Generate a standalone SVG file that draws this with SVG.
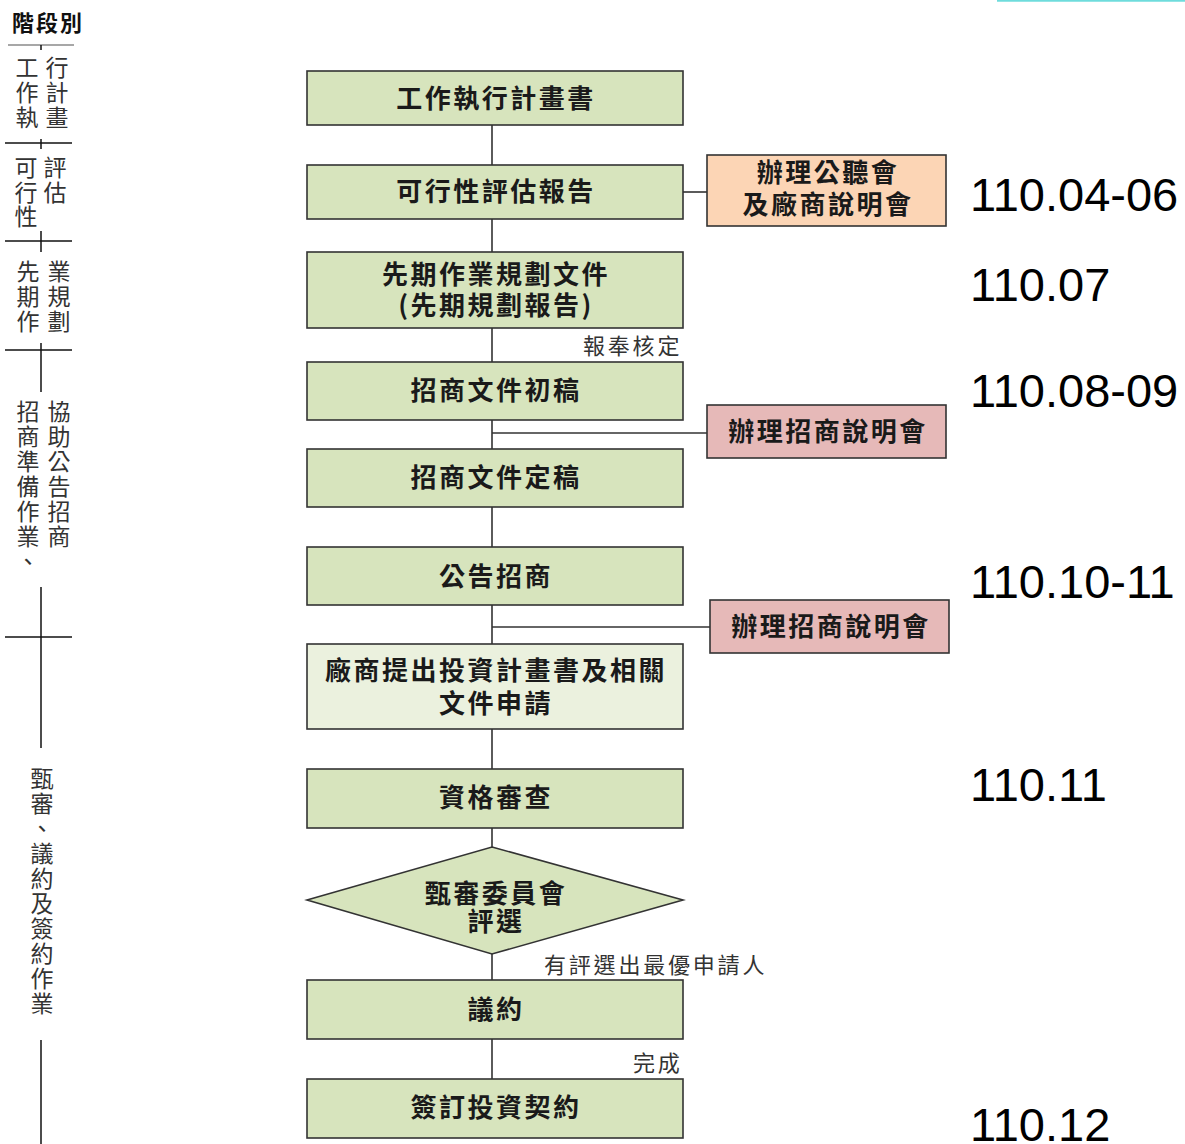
<svg xmlns="http://www.w3.org/2000/svg" width="1185" height="1144" viewBox="0 0 1185 1144">
<style>
.bg{fill:#ffffff}
.box{fill:#d7e4bd;stroke:#333333;stroke-width:1.6}
.box2{fill:#ebf1de;stroke:#333333;stroke-width:1.6}
.orange{fill:#fcd5b5;stroke:#333333;stroke-width:1.6}
.pink{fill:#e6b9b8;stroke:#333333;stroke-width:1.6}
.conn{stroke:#333333;stroke-width:1.6;fill:none}
.stage{stroke:#111111;stroke-width:1.5;fill:none}
.bt{font-family:"Noto Sans CJK TC","Noto Sans CJK SC",sans-serif;font-size:26px;font-weight:bold;fill:#1a1a1a;text-anchor:middle;letter-spacing:2.5px}
.lbl{font-family:"Noto Sans CJK TC","Noto Sans CJK SC",sans-serif;font-size:22px;fill:#333333;letter-spacing:2.8px}
.side{font-family:"Noto Sans CJK TC","Noto Sans CJK SC",sans-serif;font-size:23px;fill:#333333;text-anchor:middle}
.date{font-family:"Liberation Sans",Arial,sans-serif;font-size:47px;fill:#000000}
</style>
<rect class="bg" x="0" y="0" width="1185" height="1144"/>
<line x1="997" y1="0.8" x2="1185" y2="0.8" stroke="#6fdcdc" stroke-width="2"/>

<g id="stages">
  <text x="12" y="31" font-family="'Noto Sans CJK TC',sans-serif" font-size="22" font-weight="bold" fill="#111" letter-spacing="2">階段別</text>
  <line x1="8" y1="45" x2="74" y2="45" stroke="#8a8a8a" stroke-width="1.5"/>
  <line class="stage" x1="41" y1="45" x2="41" y2="50"/>
  <g id="stage1">
    <text class="side" x="27" y="76">工</text><text class="side" x="27" y="101">作</text><text class="side" x="27" y="126">執</text>
    <text class="side" x="57" y="76">行</text><text class="side" x="57" y="101">計</text><text class="side" x="57" y="126">畫</text>
  </g>
  <line class="stage" x1="5" y1="143" x2="72" y2="143"/>
  <line class="stage" x1="41" y1="139" x2="41" y2="149"/>
  <g id="stage2">
    <text class="side" x="26" y="176">可</text><text class="side" x="26" y="201">行</text><text class="side" x="26" y="225">性</text>
    <text class="side" x="55" y="176">評</text><text class="side" x="55" y="201">估</text>
  </g>
  <line class="stage" x1="5" y1="241" x2="72" y2="241"/>
  <line class="stage" x1="41" y1="231" x2="41" y2="252"/>
  <g id="stage3">
    <text class="side" x="28" y="280">先</text><text class="side" x="28" y="305">期</text><text class="side" x="28" y="330">作</text>
    <text class="side" x="59" y="280">業</text><text class="side" x="59" y="305">規</text><text class="side" x="59" y="330">劃</text>
  </g>
  <line class="stage" x1="5" y1="350" x2="72" y2="350"/>
  <line class="stage" x1="41" y1="343" x2="41" y2="392"/>
  <g id="stage4">
    <text class="side" x="28" y="420">招</text><text class="side" x="28" y="445">商</text><text class="side" x="28" y="470">準</text><text class="side" x="28" y="495">備</text><text class="side" x="28" y="520">作</text><text class="side" x="28" y="545">業</text><text class="side" x="28" y="570">、</text>
    <text class="side" x="59" y="420">協</text><text class="side" x="59" y="445">助</text><text class="side" x="59" y="470">公</text><text class="side" x="59" y="495">告</text><text class="side" x="59" y="520">招</text><text class="side" x="59" y="545">商</text>
  </g>
  <line class="stage" x1="41" y1="587" x2="41" y2="748"/>
  <line class="stage" x1="5" y1="637" x2="72" y2="637"/>
  <g id="stage5">
    <text class="side" x="42" y="787">甄</text><text class="side" x="42" y="812">審</text><text class="side" x="42" y="837">、</text><text class="side" x="42" y="862">議</text><text class="side" x="42" y="887">約</text><text class="side" x="42" y="912">及</text><text class="side" x="42" y="937">簽</text><text class="side" x="42" y="962">約</text><text class="side" x="42" y="987">作</text><text class="side" x="42" y="1012">業</text>
  </g>
  <line class="stage" x1="41" y1="1040" x2="41" y2="1144"/>
</g>

<g id="connectors">
  <line class="conn" x1="492" y1="125" x2="492" y2="165"/>
  <line class="conn" x1="492" y1="219" x2="492" y2="252"/>
  <line class="conn" x1="492" y1="328" x2="492" y2="362"/>
  <line class="conn" x1="492" y1="420" x2="492" y2="449"/>
  <line class="conn" x1="492" y1="507" x2="492" y2="547"/>
  <line class="conn" x1="492" y1="605" x2="492" y2="644"/>
  <line class="conn" x1="492" y1="729" x2="492" y2="769"/>
  <line class="conn" x1="492" y1="828" x2="492" y2="847"/>
  <line class="conn" x1="492" y1="954" x2="492" y2="980"/>
  <line class="conn" x1="492" y1="1039" x2="492" y2="1079"/>
  <line class="conn" x1="683" y1="192" x2="707" y2="192"/>
  <line class="conn" x1="492" y1="433" x2="707" y2="433"/>
  <line class="conn" x1="492" y1="627" x2="710" y2="627"/>
  <text class="lbl" x="583" y="354">報奉核定</text>
  <text class="lbl" x="544" y="973">有評選出最優申請人</text>
  <text class="lbl" x="633" y="1071">完成</text>
</g>

<g id="n1"><rect class="box" x="307" y="71" width="376" height="54"/><text class="bt" x="496" y="108">工作執行計畫書</text></g>
<g id="n2"><rect class="box" x="307" y="165" width="376" height="54"/><text class="bt" x="496" y="201">可行性評估報告</text></g>
<g id="n3"><rect class="box" x="307" y="252" width="376" height="76"/><text class="bt" x="496" y="284">先期作業規劃文件</text><text class="bt" x="496" y="315">(先期規劃報告)</text></g>
<g id="n4"><rect class="box" x="307" y="362" width="376" height="58"/><text class="bt" x="496" y="400">招商文件初稿</text></g>
<g id="n5"><rect class="box" x="307" y="449" width="376" height="58"/><text class="bt" x="496" y="487">招商文件定稿</text></g>
<g id="n6"><rect class="box" x="307" y="547" width="376" height="58"/><text class="bt" x="496" y="586">公告招商</text></g>
<g id="n7"><rect class="box2" x="307" y="644" width="376" height="85"/><text class="bt" x="496" y="680">廠商提出投資計畫書及相關</text><text class="bt" x="496" y="713">文件申請</text></g>
<g id="n8"><rect class="box" x="307" y="769" width="376" height="59"/><text class="bt" x="496" y="807">資格審查</text></g>
<g id="n9"><polygon class="box" points="492,847 683,900 492,954 307,900"/><text class="bt" x="496" y="903">甄審委員會</text><text class="bt" x="496" y="931">評選</text></g>
<g id="n10"><rect class="box" x="307" y="980" width="376" height="59"/><text class="bt" x="496" y="1019">議約</text></g>
<g id="n11"><rect class="box" x="307" y="1079" width="376" height="59"/><text class="bt" x="496" y="1117">簽訂投資契約</text></g>

<g id="s1"><rect class="orange" x="707" y="155" width="239" height="71"/><text class="bt" x="828" y="182">辦理公聽會</text><text class="bt" x="828" y="214">及廠商說明會</text></g>
<g id="s2"><rect class="pink" x="707" y="405" width="239" height="53"/><text class="bt" x="828" y="441">辦理招商說明會</text></g>
<g id="s3"><rect class="pink" x="710" y="600" width="239" height="53"/><text class="bt" x="831" y="636">辦理招商說明會</text></g>

<g id="dates">
  <text class="date" x="970" y="211">110.04-06</text>
  <text class="date" x="970" y="301">110.07</text>
  <text class="date" x="970" y="407">110.08-09</text>
  <text class="date" x="970" y="598">110.10-11</text>
  <text class="date" x="970" y="801">110.11</text>
  <text class="date" x="970" y="1141">110.12</text>
</g>
</svg>
